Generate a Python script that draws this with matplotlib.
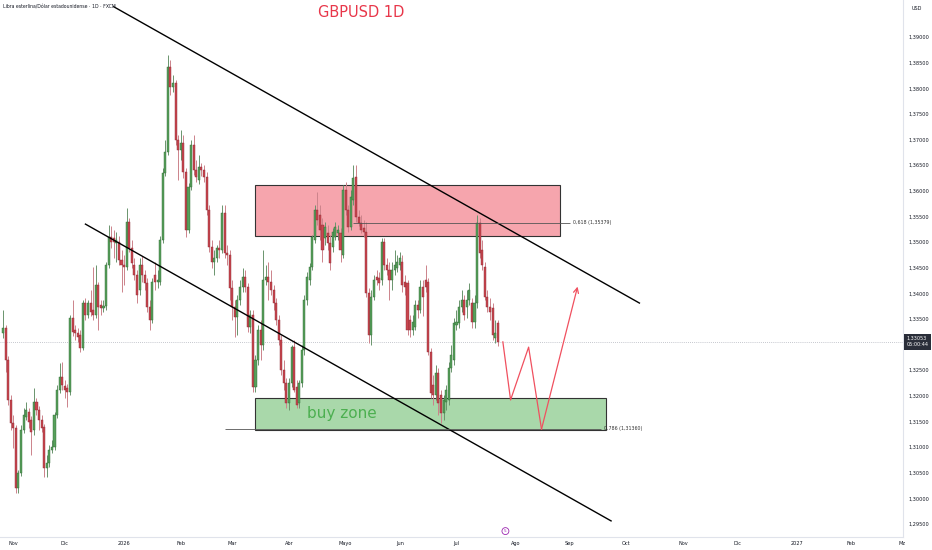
import numpy as np
import pandas as pd
import matplotlib
matplotlib.use("Agg")
import matplotlib.pyplot as plt
from matplotlib.patches import Rectangle
from matplotlib.transforms import blended_transform_factory

# daily candles, GBPUSD, from 2025-10-28 (business days)
first_day = "2025-10-28"
last_axis_day = "2027-03-31"

opens = [
    1.3322, 1.3332, 1.3270, 1.3192, 1.3147, 1.3137, 1.3020, 1.3049, 1.3133, 1.3158,
    1.3168, 1.3153, 1.3133, 1.3188, 1.3172, 1.3153, 1.3139, 1.3059, 1.3069, 1.3094,
    1.3100, 1.3162, 1.3211, 1.3236, 1.3219, 1.3215, 1.3207, 1.3352, 1.3328, 1.3322,
    1.3318, 1.3293, 1.3381, 1.3357, 1.3381, 1.3367, 1.3357, 1.3416, 1.3377, 1.3371,
    1.3375, 1.3455, 1.3510, 1.3508, 1.3498, 1.3500, 1.3465, 1.3455, 1.3451, 1.3539,
    1.3488, 1.3455, 1.3436, 1.3406, 1.3455, 1.3436, 1.3420, 1.3373, 1.3348, 1.3436,
    1.3422, 1.3422, 1.3504, 1.3634, 1.3675, 1.3841, 1.3802, 1.3810, 1.3699, 1.3679,
    1.3693, 1.3636, 1.3523, 1.3607, 1.3689, 1.3640, 1.3621, 1.3646, 1.3640, 1.3627,
    1.3562, 1.3490, 1.3461, 1.3469, 1.3488, 1.3484, 1.3556, 1.3478, 1.3475, 1.3410,
    1.3373, 1.3353, 1.3387, 1.3412, 1.3432, 1.3412, 1.3334, 1.3357, 1.3217, 1.3270,
    1.3328, 1.3299, 1.3426, 1.3432, 1.3422, 1.3406, 1.3381, 1.3348, 1.3309, 1.3250,
    1.3225, 1.3186, 1.3225, 1.3295, 1.3217, 1.3186, 1.3225, 1.3289, 1.3387, 1.3426,
    1.3451, 1.3504, 1.3562, 1.3552, 1.3533, 1.3508, 1.3517, 1.3498, 1.3490, 1.3510,
    1.3517, 1.3517, 1.3475, 1.3601, 1.3562, 1.3529, 1.3582, 1.3627, 1.3549, 1.3537,
    1.3527, 1.3519, 1.3400, 1.3318, 1.3393, 1.3432, 1.3430, 1.3426, 1.3500, 1.3455,
    1.3445, 1.3426, 1.3445, 1.3449, 1.3455, 1.3461, 1.3422, 1.3420, 1.3348, 1.3328,
    1.3334, 1.3377, 1.3367, 1.3412, 1.3426, 1.3422, 1.3285, 1.3221, 1.3201, 1.3244,
    1.3201, 1.3166, 1.3188, 1.3192, 1.3254, 1.3270, 1.3338, 1.3342, 1.3373, 1.3387,
    1.3373, 1.3387, 1.3381, 1.3344, 1.3381, 1.3537, 1.3484, 1.3451, 1.3393, 1.3373,
    1.3371, 1.3313, 1.3342,
]
highs = [
    1.3367, 1.3338, 1.3277, 1.3201, 1.3162, 1.3143, 1.3055, 1.3143, 1.3176, 1.3188,
    1.3176, 1.3160, 1.3215, 1.3196, 1.3180, 1.3162, 1.3145, 1.3084, 1.3104, 1.3114,
    1.3168, 1.3221, 1.3264, 1.3266, 1.3231, 1.3223, 1.3357, 1.3387, 1.3338, 1.3332,
    1.3328, 1.3387, 1.3391, 1.3387, 1.3406, 1.3451, 1.3455, 1.3422, 1.3387, 1.3387,
    1.3461, 1.3533, 1.3531, 1.3523, 1.3519, 1.3512, 1.3484, 1.3475, 1.3566, 1.3547,
    1.3504, 1.3469, 1.3445, 1.3469, 1.3473, 1.3445, 1.3430, 1.3387, 1.3430, 1.3461,
    1.3445, 1.3512, 1.3644, 1.3699, 1.3865, 1.3855, 1.3826, 1.3816, 1.3709, 1.3718,
    1.3709, 1.3644, 1.3615, 1.3699, 1.3709, 1.3660, 1.3670, 1.3654, 1.3650, 1.3636,
    1.3572, 1.3504, 1.3484, 1.3494, 1.3504, 1.3572, 1.3572, 1.3494, 1.3484, 1.3426,
    1.3387, 1.3396, 1.3426, 1.3449, 1.3445, 1.3420, 1.3367, 1.3367, 1.3279, 1.3338,
    1.3348, 1.3484, 1.3455, 1.3461, 1.3445, 1.3416, 1.3391, 1.3357, 1.3318, 1.3270,
    1.3235, 1.3235, 1.3299, 1.3309, 1.3231, 1.3231, 1.3299, 1.3396, 1.3441, 1.3459,
    1.3514, 1.3572, 1.3597, 1.3572, 1.3547, 1.3539, 1.3533, 1.3514, 1.3527, 1.3539,
    1.3533, 1.3527, 1.3611, 1.3617, 1.3572, 1.3601, 1.3650, 1.3650, 1.3562, 1.3552,
    1.3543, 1.3539, 1.3410, 1.3406, 1.3436, 1.3445, 1.3441, 1.3508, 1.3508, 1.3469,
    1.3461, 1.3461, 1.3484, 1.3475, 1.3480, 1.3475, 1.3436, 1.3426, 1.3357, 1.3357,
    1.3387, 1.3387, 1.3426, 1.3426, 1.3455, 1.3430, 1.3293, 1.3240, 1.3260, 1.3254,
    1.3211, 1.3201, 1.3221, 1.3266, 1.3299, 1.3352, 1.3367, 1.3387, 1.3406, 1.3396,
    1.3406, 1.3420, 1.3391, 1.3396, 1.3552, 1.3547, 1.3504, 1.3461, 1.3406, 1.3391,
    1.3381, 1.3348, 1.3348,
]
lows = [
    1.3313, 1.3246, 1.3182, 1.3133, 1.3098, 1.3010, 1.3010, 1.3043, 1.3127, 1.3153,
    1.3137, 1.3084, 1.3123, 1.3162, 1.3133, 1.3129, 1.3041, 1.3041, 1.3061, 1.3088,
    1.3094, 1.3156, 1.3205, 1.3211, 1.3196, 1.3178, 1.3201, 1.3316, 1.3309, 1.3305,
    1.3285, 1.3289, 1.3348, 1.3352, 1.3355, 1.3348, 1.3352, 1.3328, 1.3357, 1.3363,
    1.3367, 1.3449, 1.3488, 1.3469, 1.3461, 1.3455, 1.3402, 1.3416, 1.3445, 1.3480,
    1.3449, 1.3426, 1.3381, 1.3396, 1.3422, 1.3406, 1.3363, 1.3328, 1.3342, 1.3406,
    1.3410, 1.3416, 1.3498, 1.3629, 1.3670, 1.3787, 1.3792, 1.3689, 1.3621, 1.3660,
    1.3625, 1.3510, 1.3517, 1.3601, 1.3631, 1.3617, 1.3613, 1.3629, 1.3617, 1.3552,
    1.3480, 1.3449, 1.3436, 1.3461, 1.3469, 1.3478, 1.3469, 1.3455, 1.3387, 1.3348,
    1.3314, 1.3318, 1.3377, 1.3402, 1.3402, 1.3324, 1.3322, 1.3207, 1.3207, 1.3260,
    1.3270, 1.3289, 1.3416, 1.3387, 1.3396, 1.3367, 1.3338, 1.3299, 1.3240, 1.3211,
    1.3176, 1.3172, 1.3217, 1.3207, 1.3176, 1.3176, 1.3217, 1.3279, 1.3377, 1.3416,
    1.3445, 1.3498, 1.3533, 1.3504, 1.3461, 1.3494, 1.3484, 1.3445, 1.3480, 1.3504,
    1.3504, 1.3461, 1.3469, 1.3552, 1.3519, 1.3523, 1.3572, 1.3539, 1.3531, 1.3517,
    1.3510, 1.3393, 1.3303, 1.3299, 1.3387, 1.3416, 1.3406, 1.3416, 1.3445, 1.3436,
    1.3387, 1.3406, 1.3436, 1.3441, 1.3445, 1.3402, 1.3396, 1.3318, 1.3314, 1.3318,
    1.3328, 1.3352, 1.3361, 1.3355, 1.3402, 1.3279, 1.3196, 1.3182, 1.3192, 1.3162,
    1.3147, 1.3153, 1.3172, 1.3182, 1.3246, 1.3260, 1.3328, 1.3332, 1.3363, 1.3348,
    1.3352, 1.3377, 1.3332, 1.3332, 1.3371, 1.3469, 1.3445, 1.3387, 1.3363, 1.3348,
    1.3309, 1.3303, 1.3297,
]
closes = [
    1.3332, 1.3270, 1.3192, 1.3147, 1.3137, 1.3020, 1.3049, 1.3133, 1.3162, 1.3172,
    1.3149, 1.3129, 1.3188, 1.3172, 1.3153, 1.3137, 1.3059, 1.3069, 1.3094, 1.3100,
    1.3162, 1.3211, 1.3236, 1.3221, 1.3211, 1.3207, 1.3352, 1.3324, 1.3322, 1.3314,
    1.3293, 1.3381, 1.3357, 1.3381, 1.3363, 1.3357, 1.3416, 1.3373, 1.3371, 1.3375,
    1.3455, 1.3510, 1.3500, 1.3500, 1.3504, 1.3465, 1.3455, 1.3451, 1.3539, 1.3488,
    1.3459, 1.3436, 1.3396, 1.3455, 1.3436, 1.3420, 1.3373, 1.3348, 1.3422, 1.3422,
    1.3426, 1.3504, 1.3634, 1.3675, 1.3841, 1.3802, 1.3810, 1.3699, 1.3679, 1.3693,
    1.3636, 1.3523, 1.3607, 1.3689, 1.3640, 1.3627, 1.3646, 1.3640, 1.3627, 1.3562,
    1.3490, 1.3461, 1.3469, 1.3488, 1.3484, 1.3556, 1.3478, 1.3475, 1.3410, 1.3373,
    1.3353, 1.3387, 1.3412, 1.3432, 1.3412, 1.3334, 1.3357, 1.3217, 1.3270, 1.3328,
    1.3299, 1.3426, 1.3432, 1.3422, 1.3406, 1.3381, 1.3348, 1.3309, 1.3250, 1.3225,
    1.3186, 1.3225, 1.3295, 1.3211, 1.3182, 1.3225, 1.3289, 1.3387, 1.3432, 1.3451,
    1.3510, 1.3562, 1.3543, 1.3523, 1.3484, 1.3529, 1.3498, 1.3459, 1.3519, 1.3529,
    1.3523, 1.3484, 1.3601, 1.3562, 1.3529, 1.3588, 1.3625, 1.3549, 1.3537, 1.3523,
    1.3519, 1.3400, 1.3318, 1.3393, 1.3426, 1.3426, 1.3420, 1.3500, 1.3455, 1.3445,
    1.3426, 1.3445, 1.3455, 1.3461, 1.3469, 1.3416, 1.3412, 1.3328, 1.3328, 1.3344,
    1.3377, 1.3367, 1.3412, 1.3393, 1.3412, 1.3285, 1.3205, 1.3201, 1.3244, 1.3186,
    1.3166, 1.3192, 1.3211, 1.3254, 1.3279, 1.3342, 1.3344, 1.3373, 1.3387, 1.3357,
    1.3387, 1.3406, 1.3344, 1.3381, 1.3537, 1.3478, 1.3455, 1.3393, 1.3373, 1.3363,
    1.3318, 1.3322, 1.33053,
]

month_labels = ["Nov", "Dic", "2026", "Feb", "Mar", "Abr", "Mayo", "Jun", "Jul",
                "Ago", "Sep", "Oct", "Nov", "Dic", "2027", "Feb", "Mz"]
# 1,33000 sits under the last-price tag, so it is not listed
price_ticks = [1.295, 1.300, 1.305, 1.310, 1.315, 1.320, 1.325, 1.335, 1.340,
               1.345, 1.350, 1.355, 1.360, 1.365, 1.370, 1.375, 1.380, 1.385, 1.390]

# drawings (anchor date, price)
upper_line_days = ["2025-12-26", "2026-10-08"]
upper_line_prices = [1.3959, 1.3381]
lower_line_days = ["2025-12-11", "2026-09-23"]
lower_line_prices = [1.3535, 1.2956]
sell_zone_days = ["2026-03-13", "2026-08-26"]
sell_zone_prices = [1.3512, 1.3611]
buy_zone_days = ["2026-03-13", "2026-09-21"]
buy_zone_prices = [1.3134, 1.3196]
fib_levels = [0.618, 0.786]
fib_prices = [1.35379, 1.31360]
fib_days = [["2026-05-06", "2026-09-01"], ["2026-02-25", "2026-09-17"]]
path_days = ["2026-07-27", "2026-07-30", "2026-08-10", "2026-08-17", "2026-09-04"]
path_prices = [1.33053, 1.3192, 1.3295, 1.3135, 1.3413]

days = pd.bdate_range(first_day, last_axis_day)


def pos(day):
    return days.get_loc(pd.Timestamp(day))


o = np.array(opens)
h = np.array(highs)
l = np.array(lows)
c = np.array(closes)
x = np.arange(len(c))
up = c >= o

fig = plt.figure(figsize=(9.32, 5.5), dpi=100)
fig.patch.set_facecolor("white")
ax = fig.add_axes([0, 13 / 550, 903 / 932, 537 / 550])
ax.set_xlim(-1.16, 349.3)
ax.set_ylim(1.29246, 1.39722)

# zones behind the candles
ax.add_patch(Rectangle((pos(sell_zone_days[0]), sell_zone_prices[0]),
                       pos(sell_zone_days[1]) - pos(sell_zone_days[0]),
                       sell_zone_prices[1] - sell_zone_prices[0],
                       facecolor="#f6a5ad", edgecolor="#333333", lw=0.8, zorder=1))
ax.add_patch(Rectangle((pos(buy_zone_days[0]), buy_zone_prices[0]),
                       pos(buy_zone_days[1]) - pos(buy_zone_days[0]),
                       buy_zone_prices[1] - buy_zone_prices[0],
                       facecolor="#a9d8aa", edgecolor="#333333", lw=0.8, zorder=1))

# candles
wick_cols = np.where(up, "#6a946d", "#cc838b")
body_cols = np.where(up, "#58a05c", "#c9464f")
edge_cols = np.where(up, "#2f6a34", "#8a2a33")
ax.vlines(x, l, h, colors=wick_cols, lw=0.7, zorder=2)
heights = np.where(np.abs(c - o) < 0.00008, 0.00008, c - o)
ax.bar(x, heights, bottom=o, width=0.8, color=body_cols, edgecolor=edge_cols,
       linewidth=0.3, zorder=3)

# channel
ax.plot([pos(d) for d in upper_line_days], upper_line_prices, color="black", lw=1.0, zorder=4)
ax.plot([pos(d) for d in lower_line_days], lower_line_prices, color="black", lw=1.0, zorder=4)

# fib levels
for lvl, p, (d0, d1) in zip(fib_levels, fib_prices, fib_days):
    ax.hlines(p, pos(d0), pos(d1), color="#555555", lw=0.6, zorder=4)
    lab = f"{lvl:.3f} ({p:.5f})".replace(".", ",")
    ax.text(pos(d1) + 1.2, p, lab, fontsize=3.4, color="#333333",
            va="center", ha="left", zorder=5)

# projected path
px = [pos(d) for d in path_days]
ax.plot(px[:-1], path_prices[:-1], color="#f0505f", lw=0.9, zorder=5)
ax.annotate("", xy=(px[-1], path_prices[-1]), xytext=(px[-2], path_prices[-2]),
            arrowprops=dict(arrowstyle="->", color="#f0505f", lw=0.9,
                            mutation_scale=9, shrinkA=0, shrinkB=0), zorder=5)

ax.text(pos("2026-04-10"), 1.3166, "buy zone", fontsize=11, color="#4caf50",
        va="center", ha="left", zorder=5)

# last price
last = c[-1]
ax.axhline(last, color="#b2b5be", lw=0.6, ls=(0, (1, 1.5)), zorder=1)
trans = blended_transform_factory(ax.transAxes, ax.transData)
ax.text(1.004, last, f"{last:.5f}".replace(".", ",") + "\n05:00:44", transform=trans,
        fontsize=3.5, color="white", va="center", ha="left", linespacing=1.3,
        bbox=dict(boxstyle="square,pad=0.45", fc="#2a2e39", ec="none"),
        clip_on=False, zorder=10)

# event marker
ax.annotate("5", xy=(pos("2026-07-28"), 0.011), xycoords=("data", "axes fraction"),
            fontsize=3, color="#9c27b0", ha="center", va="center",
            bbox=dict(boxstyle="circle,pad=0.35", fc="white", ec="#9c27b0", lw=0.6))

# axes
month_starts = days.to_series().groupby(days.to_period("M")).first()
month_pos = [pos(d) for d in month_starts if d >= pd.Timestamp("2025-11-01")]
ax.set_xticks(month_pos)
ax.set_xticklabels(month_labels)
ax.yaxis.tick_right()
ax.set_yticks(price_ticks)
ax.set_yticklabels([f"{p:.5f}".replace(".", ",") for p in price_ticks])
ax.tick_params(axis="y", length=0, pad=4, labelsize=3.6, labelcolor="#131722")
ax.tick_params(axis="x", length=0, pad=3, labelsize=3.6, labelcolor="#131722")
for s in ["top", "left"]:
    ax.spines[s].set_visible(False)
for s in ["right", "bottom"]:
    ax.spines[s].set_color("#e0e3eb")
    ax.spines[s].set_linewidth(0.8)

fig.text(3 / 932, 1 - 7 / 550, "Libra esterlina/Dólar estadounidense · 1D · FXCM",
         fontsize=3.3, color="#131722", va="center", ha="left")
fig.text(0.388, 0.978, "GBPUSD 1D", fontsize=10.5, color="#e8374a",
         ha="center", va="center")
fig.text(912 / 932, 1 - 8 / 550, "USD", fontsize=3.5, color="#131722",
         ha="left", va="center")

fig.savefig("out.png", dpi=100)
